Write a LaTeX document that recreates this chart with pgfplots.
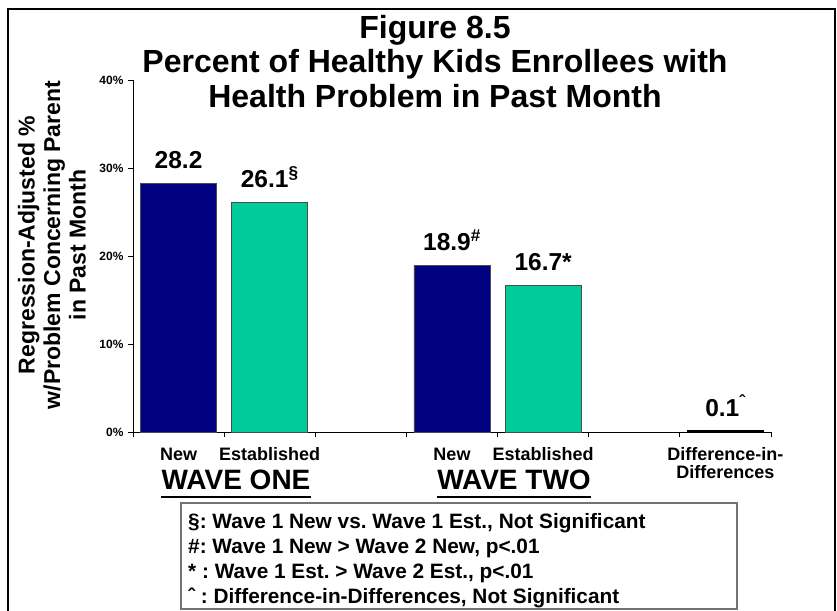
\documentclass[border=0pt]{standalone}
\usepackage{pgfplots}
\pgfplotsset{compat=1.18}
\usepackage{fontspec}
\setmainfont{Liberation Sans}
\definecolor{navyb}{HTML}{000080}
\definecolor{tealb}{HTML}{00CC99}
\frenchspacing
\begin{document}
\frenchspacing
\begin{tikzpicture}
\path[use as bounding box] (0pt,0pt) rectangle (837pt,-610pt);
\draw[line width=2pt] (8pt,-9pt) rectangle (835pt,-616pt);
% title
\node[anchor=base, inner sep=0pt, font=\fontsize{32}{36}\selectfont\bfseries] at (435pt,-38pt) {Figure 8.5};
\node[anchor=base, inner sep=0pt, font=\fontsize{32}{36}\selectfont\bfseries] at (435pt,-72pt) {Percent of Healthy Kids Enrollees with};
\node[anchor=base, inner sep=0pt, font=\fontsize{32}{36}\selectfont\bfseries] at (435pt,-107pt) {Health Problem in Past Month};
% y label
\node[rotate=90, align=center, inner sep=0pt, font=\fontsize{23}{25.5}\selectfont\bfseries] at (52pt,-245pt) {Regression-Adjusted \%\\w/Problem Concerning Parent\\in Past Month};
\begin{axis}[
  at={(133pt,-432pt)}, anchor=south west, scale only axis,
  width=638pt, height=352pt,
  xmin=-0.5, xmax=6.5, ymin=0, ymax=40,
  axis x line*=bottom, axis y line*=left,
  axis line style={black, line width=0.8pt},
  ytick={0,10,20,30,40}, yticklabels={0\%,10\%,20\%,30\%,40\%},
  yticklabel style={font=\fontsize{12}{14}\selectfont\bfseries, xshift=-1pt},
  xtick={-0.5,0.5,1.5,2.5,3.5,4.5,5.5,6.5}, xticklabels={},
  tick align=outside, major tick length=5pt,
  tick style={black, line width=0.8pt},
  extra x ticks={0,1,3,4,6},
  extra x tick labels={New,Established,New,Established,{\renewcommand{\arraystretch}{0.92}\begin{tabular}[t]{@{}c@{}}Difference-in-\\Differences\end{tabular}}},
  extra x tick style={major tick length=0pt,
     tick label style={font=\fontsize{18}{18}\selectfont\bfseries, anchor=base, inner sep=0pt, yshift=-28pt}},
  ybar, bar width=0.834,
  point meta=explicit symbolic,
  nodes near coords,
  nodes near coords style={font=\fontsize{24.5}{28}\selectfont\bfseries, anchor=base, yshift=15pt, inner sep=0pt},
  clip=false,
]
\addplot[bar shift=0pt, fill=navyb, draw=black!70, line width=0.8pt]
  coordinates {(0,28.2) [28.2] (3,18.9) [18.9\textsuperscript{\#}]};
\addplot[bar shift=0pt, fill=tealb, draw=black!70, line width=0.8pt]
  coordinates {(1,26.1) [26.1\textsuperscript{§}] (4,16.7) [16.7*]};
\addplot[bar shift=0pt, fill=black, draw=black, line width=1.5pt]
  coordinates {(6,0.1) [0.1\textsuperscript{ˆ}]};
\end{axis}
% wave labels
\node[anchor=base, inner sep=0pt, font=\fontsize{28}{32}\selectfont\bfseries] (w1) at (236pt,-489pt) {WAVE ONE};
\draw[line width=2pt] ([yshift=-8pt]w1.base west) -- ([yshift=-8pt]w1.base east);
\node[anchor=base, inner sep=0pt, font=\fontsize{28}{32}\selectfont\bfseries] (w2) at (514pt,-489pt) {WAVE TWO};
\draw[line width=2pt] ([yshift=-8pt]w2.base west) -- ([yshift=-8pt]w2.base east);
% notes box
\draw[black!55, line width=1.2pt] (181pt,-503pt) rectangle (737pt,-609pt);
\begin{scope}[every node/.style={anchor=base west, inner sep=0pt, font=\fontsize{20.8}{24}\selectfont\bfseries}]
\node at (188pt,-528pt) {§: Wave 1 New vs. Wave 1 Est., Not Significant};
\node at (188pt,-553pt) {\#: Wave 1 New > Wave 2 New, p<.01};
\node at (188pt,-578pt) {* : Wave 1 Est. > Wave 2 Est., p<.01};
\node at (188pt,-603pt) {ˆ : Difference-in-Differences, Not Significant};
\end{scope}
\end{tikzpicture}
\end{document}
